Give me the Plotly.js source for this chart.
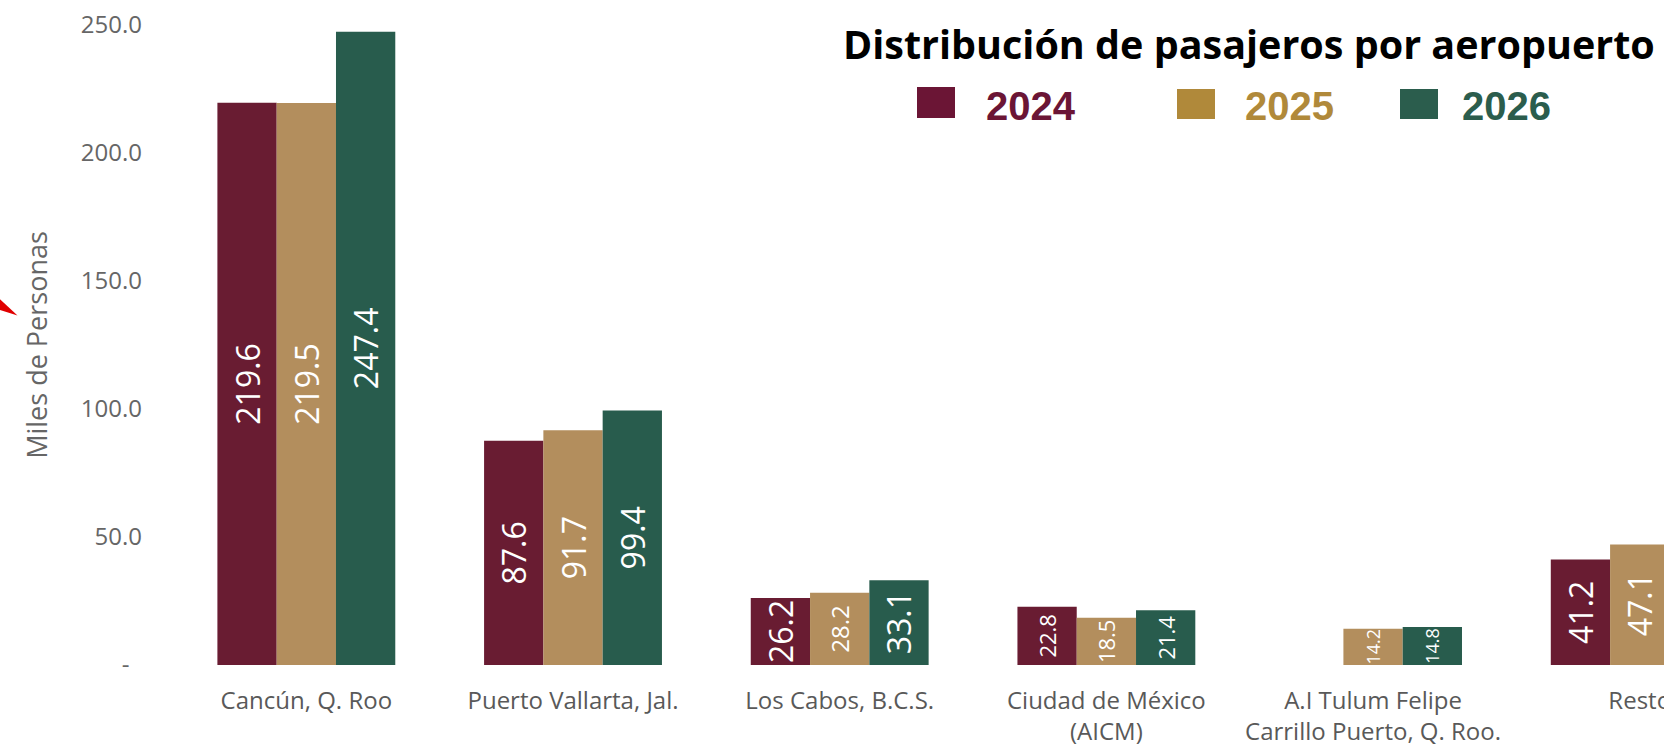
<!DOCTYPE html>
<html>
<head>
<meta charset="utf-8">
<script src="https://cdn.plot.ly/plotly-3.0.1.min.js"></script>
<style>
  html, body { margin: 0; padding: 0; background: #ffffff; }
  #chart { width: 1664px; height: 746px; }
</style>
</head>
<body>
<div id="chart"></div>
<script>
// ---------- data ----------
const categories = [
  "Cancún, Q. Roo",
  "Puerto Vallarta, Jal.",
  "Los Cabos, B.C.S.",
  "Ciudad de México<br>(AICM)",
  "A.I Tulum Felipe<br>Carrillo Puerto, Q. Roo.",
  "Resto"
];
const years = ["2024", "2025", "2026"];
const values2024 = [219.6, 87.6, 26.2, 22.8, null, 41.2];
const values2025 = [219.5, 91.7, 28.2, 18.5, 14.2, 47.1];
const values2026 = [247.4, 99.4, 33.1, 21.4, 14.8, null];
const yTickVals = [0, 50, 100, 150, 200, 250];
const yTickText = ["-\u00a0\u00a0", "50.0", "100.0", "150.0", "200.0", "250.0"];

// ---------- styles ----------
const barColors = ["#691C32", "#B38E5D", "#285C4D"];
const legendColors = ["#6B1535", "#B0893A", "#2B5D4D"];
const labelSizes = [
  [32, 32, 32, 22, 18, 32],
  [32, 32, 24, 22, 18, 32],
  [32, 32, 32, 22, 18, 32]
];

const W = 1664, H = 746, ML = 173, MR = 0, MT = 25, MB = 81;
const px = x => (x - ML) / (W - ML - MR);
const py = y => (H - MB - y) / (H - MT - MB);

const series = [values2024, values2025, values2026];
const traces = series.map((vals, i) => ({
  type: "bar",
  name: years[i],
  x: categories,
  y: vals,
  marker: { color: barColors[i] },
  texttemplate: "%{y:.1f}",
  textposition: "inside",
  insidetextanchor: "middle",
  textangle: -90,
  constraintext: "none",
  cliponaxis: true,
  textfont: { family: "Open Sans", color: "#ffffff", size: labelSizes[i] },
  hoverinfo: "x+y+name"
}));

// legend built from shapes + annotations
const legendBoxes = [
  { x0: 917, x1: 955, y0: 87, y1: 118, tx: 984 },
  { x0: 1177, x1: 1215, y0: 89, y1: 119, tx: 1243 },
  { x0: 1400, x1: 1438, y0: 89, y1: 119, tx: 1460 }
];

const shapes = legendBoxes.map((b, i) => ({
  type: "rect", xref: "paper", yref: "paper",
  x0: px(b.x0), x1: px(b.x1), y0: py(b.y1), y1: py(b.y0),
  fillcolor: legendColors[i], line: { width: 0 }, layer: "above"
}));
shapes.push({
  type: "path", xref: "paper", yref: "paper",
  path: `M ${px(-10)},${py(290)} L ${px(17.5)},${py(315.5)} L ${px(-10)},${py(307)} Z`,
  fillcolor: "#E00000", line: { width: 0 }, layer: "above"
});

const annotations = legendBoxes.map((b, i) => ({
  xref: "paper", yref: "paper",
  x: px(b.tx), y: py(106),
  xanchor: "left", yanchor: "middle",
  text: "<b>" + years[i] + "</b>",
  showarrow: false,
  font: { family: "Liberation Sans, Arial, sans-serif", size: 40, color: legendColors[i] }
}));

const layout = {
  width: W, height: H,
  margin: { l: ML, r: MR, t: MT, b: MB, pad: 0, autoexpand: false },
  paper_bgcolor: "#ffffff",
  plot_bgcolor: "#ffffff",
  showlegend: false,
  barmode: "group",
  bargap: 0.333,
  bargroupgap: 0,
  title: {
    text: "<b>Distribución de pasajeros por aeropuerto</b>",
    font: { family: "Open Sans", size: 39.5, color: "#000000" },
    xref: "container", yref: "container",
    x: 843 / W, xanchor: "left",
    y: 1 - 45 / H, yanchor: "middle",
    pad: { t: 0, b: 0, l: 0, r: 0 }
  },
  xaxis: {
    type: "category",
    range: [-0.5, 5.091],
    showgrid: false, zeroline: false, showline: false,
    ticks: "",
    ticklabelstandoff: 19,
    tickfont: { family: "Open Sans", size: 24, color: "#595959" },
    automargin: false
  },
  yaxis: {
    range: [0, 250],
    tickvals: yTickVals,
    ticktext: yTickText,
    showgrid: false, zeroline: false, showline: false,
    ticks: "",
    ticklabelstandoff: 30,
    tickfont: { family: "Open Sans", size: 24, color: "#666666" },
    title: {
      text: "Miles de Personas",
      font: { family: "Open Sans", size: 27, color: "#666666" },
      standoff: 25
    },
    automargin: false
  },
  shapes: shapes,
  annotations: annotations
};

Plotly.newPlot("chart", traces, layout, { displayModeBar: false, staticPlot: true });
</script>
</body>
</html>
